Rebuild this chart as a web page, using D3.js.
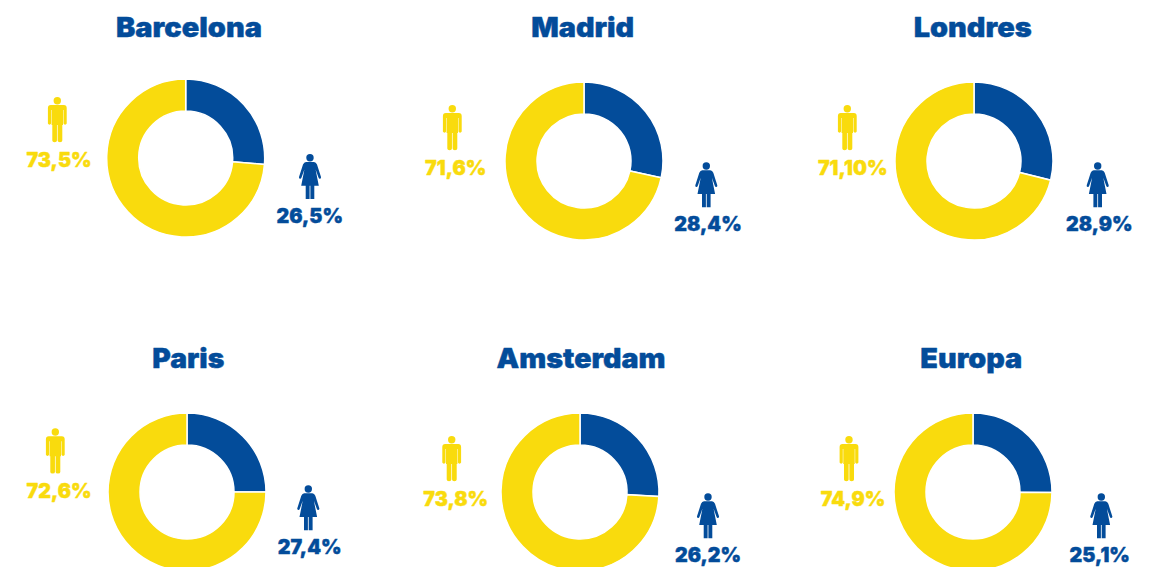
<!DOCTYPE html>
<html lang="es">
<head>
<meta charset="utf-8">
<script src="https://cdn.jsdelivr.net/npm/d3@7/dist/d3.min.js"></script>
<style>
html,body{margin:0;padding:0;background:#fff;overflow:hidden}
svg{display:block}
text{font-family:Inter,Roboto,sans-serif;font-weight:900;text-anchor:middle;stroke-linejoin:round}
</style>
</head>
<body>
<svg id="chart" width="1157" height="567"></svg>
<script>
// Data
const cities = ["Barcelona","Madrid","Londres","Paris","Amsterdam","Europa"];
const menLabels = ["73,5%","71,6%","71,10%","72,6%","73,8%","74,9%"];
const womenLabels = ["26,5%","28,4%","28,9%","27,4%","26,2%","25,1%"];
// Women's share as the rings are actually drawn (Paris's ring shows about a quarter)
const womenShare = [26.3,28.4,28.9,25,25.9,25.1];

// Layout, by panel
const ringX = [185.7,584,974,187,580,973];
const ringY = [158,161,161,492,492,492];
const titleX = [189,582.7,972.7,188.3,581,971.3];
const titleY = [37.3,37.3,37.3,368.3,368.3,368.3];
const titleW = [146,103,118,72,169,102];
const manX = [57.3,452.3,847.3,55.3,451.7,849];
const manTop = [97,105,105,428.3,436,436];
const manLabelX = [59,455.7,852.7,59,455.7,853];
const manLabelY = [166.7,174.7,174.7,497.7,506,506];
const womanX = [310,706.3,1097.7,308.3,708,1101.3];
const womanTop = [154,162.3,162.3,485.3,493.3,493.3];
const womanLabelX = [309.7,708,1099.3,309.7,708,1099.7];
const womanLabelY = [222.7,231,231,554,561.7,561.7];

const BLUE = "#034c9a", YELLOW = "#f9db0d";
const manBody = "M-9.4,11Q-9.4,8 -6.5,8H6.5Q9.4,8 9.4,11V26.5A1.7,1.7 0 0 1 6.2,26.5V13H5.7V28H5V43.6A2.2,1.6 0 0 1 0.35,43.6V28H-0.35V43.6A2.2,1.6 0 0 1 -5,43.6V28H-5.7V13H-6.2V26.5A1.7,1.7 0 0 1 -9.4,26.5Z";
const womanBody = "M-4,8H4Q6,8 7,10.5L11,23Q11.3,24.5 10,24.8Q9,25 8.5,23.5L5.6,15.5L8.8,31.8H4.3V45H0.4V31.8H-0.4V45H-4.3V31.8H-8.8L-5.6,15.5L-8.5,23.5Q-9,25 -10,24.8Q-11.3,24.5 -11,23L-7,10.5Q-6,8 -4,8Z";

const svg = d3.select("#chart");
const pie = d3.pie().sort(null);
const arc = d3.arc().innerRadius(47).outerRadius(79);

function person(g, x, top, body, color){
  const p = g.append("g").attr("transform", `translate(${x},${top})`).attr("fill", color);
  p.append("circle").attr("cy", 3.7).attr("r", 3.7);
  p.append("path").attr("d", body);
}

cities.forEach((city, i) => {
  const g = svg.append("g").attr("class", "panel");
  g.append("text").attr("x", titleX[i]).attr("y", titleY[i])
    .attr("font-size", 27).attr("fill", BLUE).attr("stroke", BLUE).attr("stroke-width", 0.4)
    .attr("textLength", titleW[i]).attr("lengthAdjust", "spacingAndGlyphs").text(city);

  const ring = g.append("g").attr("transform", `translate(${ringX[i]},${ringY[i]})`);
  ring.selectAll("path").data(pie([womenShare[i], 100 - womenShare[i]])).join("path")
    .attr("d", arc)
    .attr("fill", (d, k) => k === 0 ? BLUE : YELLOW)
    .attr("stroke", "#fff").attr("stroke-width", 1.5);

  person(g, manX[i], manTop[i], manBody, YELLOW);
  person(g, womanX[i], womanTop[i], womanBody, BLUE);

  g.append("text").attr("x", manLabelX[i]).attr("y", manLabelY[i])
    .attr("font-size", 19.7).attr("fill", YELLOW).attr("stroke", YELLOW).attr("stroke-width", 0.4).text(menLabels[i]);
  g.append("text").attr("x", womanLabelX[i]).attr("y", womanLabelY[i])
    .attr("font-size", 19.7).attr("fill", BLUE).attr("stroke", BLUE).attr("stroke-width", 0.4).text(womenLabels[i]);
});
</script>
</body>
</html>
